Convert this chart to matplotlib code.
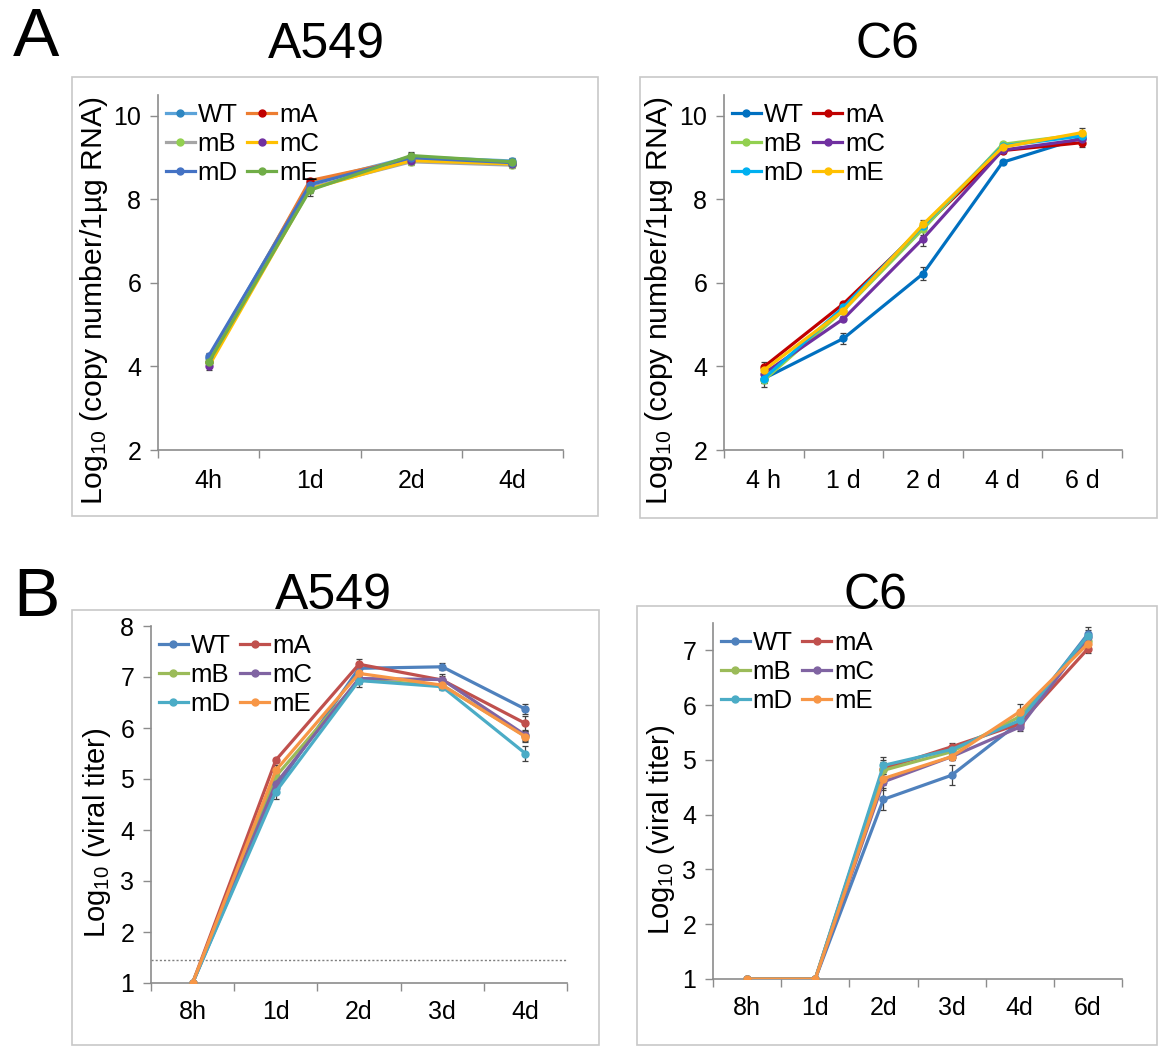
"""
Viral RNA copy number (A) and viral titer (B) time courses in A549 and C6 cells,
WT vs. mutants mA-mE.
"""

import matplotlib

matplotlib.use("Agg")
import matplotlib.pyplot as plt
from matplotlib.patches import Rectangle
from matplotlib.ticker import FixedLocator

plt.rcParams["font.family"] = ["Liberation Sans", "DejaVu Sans"]
plt.rcParams["mathtext.default"] = "regular"

# ============================ DATA ============================
SERIES = ["WT", "mA", "mB", "mC", "mD", "mE"]

# A, A549: Log10 copy number / 1 ug RNA
A549_RNA_X = ["4h", "1d", "2d", "4d"]
A549_RNA = {
    "WT": [4.20, 8.40, 9.02, 8.92],
    "mA": [4.10, 8.45, 8.97, 8.85],
    "mB": [4.10, 8.28, 8.90, 8.82],
    "mC": [4.00, 8.25, 8.93, 8.85],
    "mD": [4.25, 8.35, 9.00, 8.88],
    "mE": [4.10, 8.22, 9.05, 8.90],
}
A549_RNA_ERR = {
    "WT": [0.08, 0.08, 0.08, 0.06],
    "mA": [0.08, 0.07, 0.08, 0.06],
    "mB": [0.08, 0.10, 0.08, 0.06],
    "mC": [0.08, 0.10, 0.08, 0.06],
    "mD": [0.08, 0.08, 0.08, 0.06],
    "mE": [0.08, 0.15, 0.08, 0.06],
}

# A, C6: Log10 copy number / 1 ug RNA
C6_RNA_X = ["4 h", "1 d", "2 d", "4 d", "6 d"]
C6_RNA = {
    "WT": [3.71, 4.67, 6.22, 8.89, 9.48],
    "mA": [3.99, 5.50, 7.33, 9.17, 9.36],
    "mB": [3.67, 5.34, 7.29, 9.32, 9.56],
    "mC": [3.83, 5.14, 7.06, 9.18, 9.44],
    "mD": [3.71, 5.42, 7.37, 9.28, 9.52],
    "mE": [3.91, 5.34, 7.40, 9.25, 9.60],
}
C6_RNA_ERR = {
    "WT": [0.10, 0.12, 0.15, 0.05, 0.08],
    "mA": [0.12, 0.05, 0.08, 0.06, 0.10],
    "mB": [0.15, 0.06, 0.15, 0.06, 0.08],
    "mC": [0.08, 0.06, 0.18, 0.06, 0.08],
    "mD": [0.10, 0.06, 0.10, 0.06, 0.08],
    "mE": [0.10, 0.06, 0.10, 0.06, 0.10],
}

# B, A549: Log10 viral titer
A549_TITER_X = ["8h", "1d", "2d", "3d", "4d"]
A549_TITER = {
    "WT": [1.0, 4.82, 7.17, 7.20, 6.37],
    "mA": [1.0, 5.37, 7.25, 6.94, 6.09],
    "mB": [1.0, 5.05, 6.94, 6.84, 5.84],
    "mC": [1.0, 4.91, 6.97, 6.95, 5.86],
    "mD": [1.0, 4.75, 6.93, 6.81, 5.50],
    "mE": [1.0, 5.17, 7.07, 6.84, 5.83],
}
A549_TITER_ERR = {
    "WT": [0.0, 0.10, 0.08, 0.07, 0.10],
    "mA": [0.0, 0.05, 0.10, 0.07, 0.15],
    "mB": [0.0, 0.10, 0.08, 0.07, 0.10],
    "mC": [0.0, 0.10, 0.08, 0.10, 0.10],
    "mD": [0.0, 0.15, 0.12, 0.07, 0.15],
    "mE": [0.0, 0.10, 0.08, 0.07, 0.10],
}
DETECTION_LIMIT = 1.45

# B, C6: Log10 viral titer
C6_TITER_X = ["8h", "1d", "2d", "3d", "4d", "6d"]
C6_TITER = {
    "WT": [1.0, 1.0, 4.28, 4.72, 5.69, 7.30],
    "mA": [1.0, 1.0, 4.84, 5.24, 5.66, 7.03],
    "mB": [1.0, 1.0, 4.81, 5.15, 5.79, 7.18],
    "mC": [1.0, 1.0, 4.60, 5.06, 5.60, 7.24],
    "mD": [1.0, 1.0, 4.90, 5.19, 5.72, 7.27],
    "mE": [1.0, 1.0, 4.66, 5.06, 5.88, 7.12],
}
C6_TITER_ERR = {
    "WT": [0.0, 0.0, 0.20, 0.18, 0.10, 0.12],
    "mA": [0.0, 0.0, 0.15, 0.06, 0.10, 0.08],
    "mB": [0.0, 0.0, 0.15, 0.06, 0.10, 0.08],
    "mC": [0.0, 0.0, 0.15, 0.06, 0.08, 0.08],
    "mD": [0.0, 0.0, 0.15, 0.06, 0.10, 0.10],
    "mE": [0.0, 0.0, 0.12, 0.06, 0.15, 0.08],
}

# ============================ STYLE ============================
# (line colour, marker colour)
COLORS_A549_RNA = {
    "WT": ("#5ba3d9", "#2e86c1"),
    "mA": ("#ed7d31", "#c00000"),
    "mB": ("#a5a5a5", "#92d050"),
    "mC": ("#ffc000", "#7030a0"),
    "mD": ("#4472c4", "#4472c4"),
    "mE": ("#70ad47", "#70ad47"),
}
_c6 = {"WT": "#0070c0", "mA": "#c00000", "mB": "#92d050",
       "mC": "#7030a0", "mD": "#00b0f0", "mE": "#ffc000"}
COLORS_C6_RNA = {k: (v, v) for k, v in _c6.items()}
_off = {"WT": "#4f81bd", "mA": "#c0504d", "mB": "#9bbb59",
        "mC": "#8064a2", "mD": "#4bacc6", "mE": "#f79646"}
COLORS_TITER = {k: (v, v) for k, v in _off.items()}

W, H = 1159, 1047
SPINE = "#8c8c8c"
TICK_FS = 18
LEG_FS = 18.5


def px_rect(x0, y0, x1, y1):
    """pixel box (top-left origin) -> figure fraction [l, b, w, h]"""
    return [x0 / W, 1 - y1 / H, (x1 - x0) / W, (y1 - y0) / H]


def draw_panel(fig, rect, cats, data, err, colors, ylim, yticks, ylabel,
               label_fs, label_xy, xpad):
    ax = fig.add_axes(rect)
    x = list(range(len(cats)))
    for name in SERIES:
        lc, mc = colors[name]
        ax.errorbar(x, data[name], yerr=err[name], fmt="none",
                    ecolor="#404040", elinewidth=0.9, capsize=2.5, capthick=0.9,
                    zorder=2)
        ax.plot(x, data[name], color=lc, lw=2.3, marker="o", ms=5,
                mfc=mc, mec=mc, label=name, zorder=3)

    ax.set_xlim(-0.5, len(cats) - 0.5)
    ax.set_ylim(*ylim)
    ax.set_xticks(x)
    ax.set_xticklabels(cats, fontsize=TICK_FS)
    ax.xaxis.set_minor_locator(FixedLocator([i - 0.5 for i in range(len(cats) + 1)]))
    ax.tick_params(axis="x", which="major", length=0, pad=xpad)
    ax.tick_params(axis="x", which="minor", length=6, width=1, color=SPINE,
                   direction="out")
    ax.set_yticks(yticks)
    ax.tick_params(axis="y", labelsize=TICK_FS, length=6, width=1, color=SPINE,
                   direction="out", pad=6)
    for side in ("top", "right"):
        ax.spines[side].set_visible(False)
    for side in ("left", "bottom"):
        ax.spines[side].set_color(SPINE)
        ax.spines[side].set_linewidth(1.2)
    ax.set_ylabel(ylabel, fontsize=label_fs)
    ax.yaxis.set_label_coords(*label_xy)

    h, l = ax.get_legend_handles_labels()
    order = [0, 2, 4, 1, 3, 5]  # row-wise: WT mA / mB mC / mD mE
    ax.legend([h[i] for i in order], [l[i] for i in order], ncol=2,
              loc="upper left", bbox_to_anchor=(0.0, 1.0), frameon=False,
              fontsize=LEG_FS, handlelength=1.15, handletextpad=0.1,
              columnspacing=0.35, labelspacing=0.2, borderpad=0.1,
              borderaxespad=0.2)
    return ax


fig = plt.figure(figsize=(W / 100, H / 100), dpi=100)

# panel frames
for x0, y0, x1, y1 in [(72, 77, 598, 516), (640, 77, 1157, 518),
                       (72, 610, 599, 1045), (637, 606, 1157, 1045)]:
    fig.add_artist(Rectangle((x0 / W, 1 - y1 / H), (x1 - x0) / W, (y1 - y0) / H,
                             transform=fig.transFigure, fill=False,
                             edgecolor="#c8c8c8", lw=1.2))

ylab_rna = "Log$_{10}$ (copy number/1µg RNA)"
ylab_titer = "Log$_{10}$ (viral titer)"

draw_panel(fig, px_rect(158, 95, 563, 450), A549_RNA_X, A549_RNA, A549_RNA_ERR,
           COLORS_A549_RNA, (2, 10.5), [2, 4, 6, 8, 10], ylab_rna,
           21.7, (-0.118, 0.42), 14)
draw_panel(fig, px_rect(724, 95, 1122, 450), C6_RNA_X, C6_RNA, C6_RNA_ERR,
           COLORS_C6_RNA, (2, 10.5), [2, 4, 6, 8, 10], ylab_rna,
           21.7, (-0.123, 0.42), 14)
ax_b1 = draw_panel(fig, px_rect(151, 626, 567, 983), A549_TITER_X, A549_TITER,
                   A549_TITER_ERR, COLORS_TITER, (1, 8), list(range(1, 9)),
                   ylab_titer, 21, (-0.091, 0.42), 12)
ax_b1.axhline(DETECTION_LIMIT, color="#7f7f7f", lw=1, ls=(0, (1.5, 1.5)), zorder=1)
draw_panel(fig, px_rect(713, 623, 1122, 979), C6_TITER_X, C6_TITER, C6_TITER_ERR,
           COLORS_TITER, (1, 7.5), list(range(1, 8)), ylab_titer,
           21, (-0.088, 0.42), 12)

# titles and panel letters
for txt, x, y, fs in [("A", 36, 38, 50), ("B", 36, 598, 50),
                      ("A549", 326, 45, 36), ("C6", 888, 45, 36),
                      ("A549", 333, 596, 36), ("C6", 876, 596, 36)]:
    fig.text(x / W, 1 - y / H, txt, fontsize=fs, ha="center", va="center")

fig.savefig("out.png", dpi=100)
